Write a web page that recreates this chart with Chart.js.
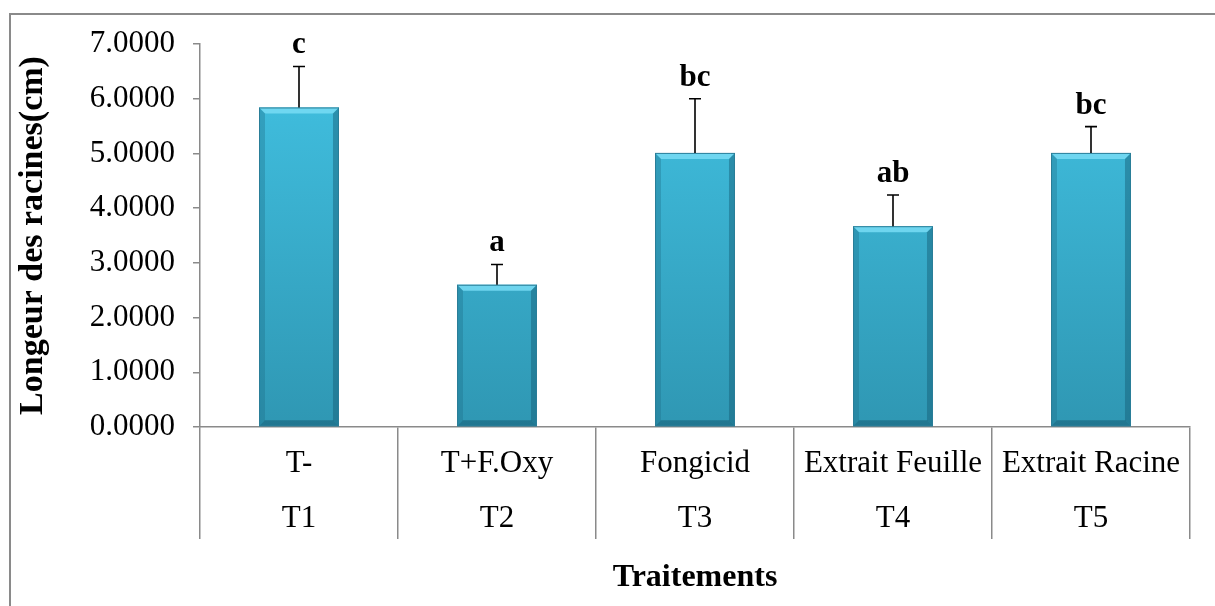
<!DOCTYPE html>
<html>
<head>
<meta charset="utf-8">
<script src="https://cdn.jsdelivr.net/npm/chart.js@4.4.1/dist/chart.umd.min.js"></script>
<style>
html,body{margin:0;padding:0;background:#fff;}
#wrap{width:1215px;height:606px;}
</style>
</head>
<body>
<div id="wrap"><canvas id="c" width="1215" height="606"></canvas></div>
<script>
const categories = ['T-', 'T+F.Oxy', 'Fongicid', 'Extrait Feuille', 'Extrait Racine'];
const codes = ['T1', 'T2', 'T3', 'T4', 'T5'];
const means = [5.84, 2.60, 5.01, 3.67, 5.01];
const errors = [0.75, 0.37, 0.99, 0.57, 0.48];
const letters = ['c', 'a', 'bc', 'ab', 'bc'];
const yTicks = [0, 1, 2, 3, 4, 5, 6, 7];

const FONT = "'Liberation Serif', 'Times New Roman', serif";
const AXIS_GRAY = '#8a8a8a';

const labels = categories.map((c, i) => [c, codes[i]]);

const framePlugin = {
  id: 'frame',
  beforeDraw(chart) {
    const ctx = chart.ctx;
    ctx.save();
    ctx.fillStyle = '#fff';
    ctx.fillRect(0, 0, chart.width, chart.height);
    ctx.strokeStyle = AXIS_GRAY;
    ctx.lineWidth = 2;
    ctx.beginPath();
    ctx.moveTo(10, chart.height);
    ctx.lineTo(10, 14);
    ctx.lineTo(chart.width, 14);
    ctx.stroke();
    ctx.restore();
  }
};

const bevelPlugin = {
  id: 'bevel',
  afterDatasetsDraw(chart) {
    const ctx = chart.ctx;
    const meta = chart.getDatasetMeta(0);
    const ys = chart.scales.y;
    ctx.save();
    meta.data.forEach((bar, i) => {
      const p = bar.getProps(['x', 'y', 'base', 'width'], true);
      const l = p.x - p.width / 2, r = p.x + p.width / 2, t = p.y, b = p.base;
      const s = 6;
      ctx.fillStyle = 'rgba(120,220,245,0.85)';
      ctx.beginPath();
      ctx.moveTo(l, t); ctx.lineTo(r, t); ctx.lineTo(r - s, t + s); ctx.lineTo(l + s, t + s); ctx.closePath(); ctx.fill();
      ctx.fillStyle = 'rgba(30,110,135,0.35)';
      ctx.beginPath();
      ctx.moveTo(l, t); ctx.lineTo(l + s, t + s); ctx.lineTo(l + s, b - s); ctx.lineTo(l, b); ctx.closePath(); ctx.fill();
      ctx.fillStyle = 'rgba(20,90,115,0.45)';
      ctx.beginPath();
      ctx.moveTo(r, t); ctx.lineTo(r - s, t + s); ctx.lineTo(r - s, b - s); ctx.lineTo(r, b); ctx.closePath(); ctx.fill();
      ctx.fillStyle = 'rgba(20,85,110,0.5)';
      ctx.beginPath();
      ctx.moveTo(l, b); ctx.lineTo(l + s, b - s); ctx.lineTo(r - s, b - s); ctx.lineTo(r, b); ctx.closePath(); ctx.fill();
      ctx.strokeStyle = '#2a7e98';
      ctx.lineWidth = 1;
      ctx.strokeRect(l + 0.5, t + 0.5, p.width - 1, b - t - 1);

      const yTop = ys.getPixelForValue(means[i] + errors[i]);
      ctx.strokeStyle = '#000';
      ctx.lineWidth = 1.6;
      ctx.beginPath();
      ctx.moveTo(p.x, t);
      ctx.lineTo(p.x, yTop);
      ctx.moveTo(p.x - 6, yTop);
      ctx.lineTo(p.x + 6, yTop);
      ctx.stroke();

      ctx.fillStyle = '#000';
      ctx.font = 'bold 31px ' + FONT;
      ctx.textAlign = 'center';
      ctx.textBaseline = 'alphabetic';
      ctx.fillText(letters[i], p.x, yTop - 13);
    });
    ctx.restore();
  }
};

new Chart(document.getElementById('c'), {
  type: 'bar',
  data: {
    labels: labels,
    datasets: [{
      data: means,
      backgroundColor(ctx) {
        const chart = ctx.chart;
        const ca = chart.chartArea;
        if (!ca) return '#38b0d2';
        const g = chart.ctx.createLinearGradient(0, ca.top, 0, ca.bottom);
        g.addColorStop(0, '#42c3e4');
        g.addColorStop(1, '#2f97b3');
        return g;
      },
      borderWidth: 0,
      barPercentage: 0.404,
      categoryPercentage: 1.0
    }]
  },
  options: {
    responsive: false,
    animation: false,
    devicePixelRatio: 1,
    layout: { padding: { left: 0, right: 25, top: 44, bottom: 0 } },
    plugins: { legend: { display: false }, tooltip: { enabled: false } },
    scales: {
      x: {
        offset: true,
        grid: {
          offset: true,
          drawOnChartArea: false,
          drawTicks: true,
          tickLength: 112,
          color: AXIS_GRAY,
          lineWidth: 1.5
        },
        border: { display: true, color: AXIS_GRAY, width: 1.5 },
        ticks: {
          color: '#000',
          font: { family: FONT, size: 31, lineHeight: 1.774 },
          padding: -102.5,
          maxRotation: 0,
          autoSkip: false
        },
        title: {
          display: true,
          text: 'Traitements',
          color: '#000',
          font: { family: FONT, size: 32, weight: 'bold', lineHeight: 1.2 },
          padding: { top: 0, bottom: 9 }
        },
        afterFit(scale) { scale.height = 179; }
      },
      y: {
        min: 0,
        max: 7,
        afterBuildTicks(scale) { scale.ticks = yTicks.map(v => ({ value: v })); },
        grid: {
          drawOnChartArea: false,
          drawTicks: true,
          tickLength: 7,
          color: AXIS_GRAY,
          lineWidth: 1.5
        },
        border: { display: true, color: AXIS_GRAY, width: 1.5 },
        ticks: {
          color: '#000',
          font: { family: FONT, size: 31 },
          padding: 18,
          callback(v) { return Number(v).toFixed(4); }
        },
        title: {
          display: true,
          text: 'Longeur des racines(cm)',
          color: '#000',
          font: { family: FONT, size: 34, weight: 'bold', lineHeight: 1.2 },
          padding: { top: 13, bottom: 0 }
        },
        afterFit(scale) { scale.width = 200; }
      }
    }
  },
  plugins: [framePlugin, bevelPlugin]
});
</script>
</body>
</html>
